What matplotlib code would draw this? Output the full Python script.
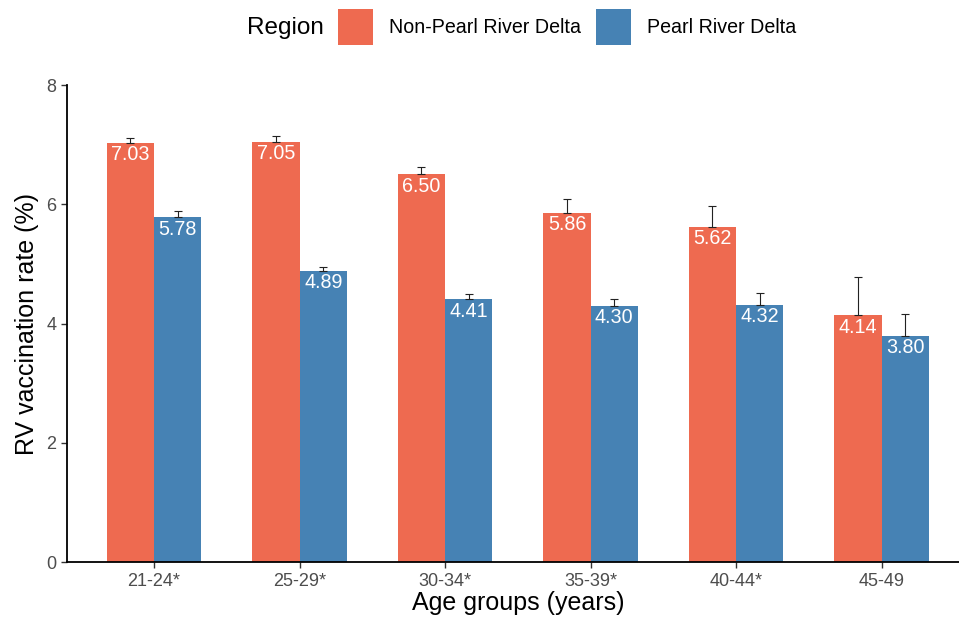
import numpy as np
import matplotlib
matplotlib.use("Agg")
import matplotlib.pyplot as plt
from matplotlib.patches import Patch

plt.rcParams["font.family"] = ["Liberation Sans", "DejaVu Sans"]

# ── data ─────────────────────────────────────────────────────────────────
AGE_GROUPS = ["21-24*", "25-29*", "30-34*", "35-39*", "40-44*", "45-49"]
NON_PRD = [7.03, 7.05, 6.50, 5.86, 5.62, 4.14]
PRD = [5.78, 4.89, 4.41, 4.30, 4.32, 3.80]
NON_PRD_UPPER = [7.12, 7.14, 6.63, 6.09, 5.98, 4.79]
PRD_UPPER = [5.89, 4.95, 4.50, 4.42, 4.52, 4.17]
REGIONS = ["Non-Pearl River Delta", "Pearl River Delta"]

COL = {"Non-Pearl River Delta": "#EE6A50", "Pearl River Delta": "#4682B4"}
W = 0.325

fig = plt.figure(figsize=(9.59, 6.23), dpi=100)
# the original panel runs slightly past the right edge of the image
ax = fig.add_axes([66.7 / 959, (623 - 562.3) / 623, (969 - 66.7) / 959, (562.3 - 85) / 623])

x = np.arange(len(AGE_GROUPS))
for off, vals, up, reg in [(-W / 2, NON_PRD, NON_PRD_UPPER, REGIONS[0]),
                           (W / 2, PRD, PRD_UPPER, REGIONS[1])]:
    ax.bar(x + off, vals, width=W, color=COL[reg], edgecolor="none")
    # upper-only error bars
    err = [np.zeros(len(vals)), np.array(up) - np.array(vals)]
    ax.errorbar(x + off, vals, yerr=err, fmt="none", ecolor="#222222",
                elinewidth=0.8, capsize=3, capthick=0.8)
    for xi, v in zip(x + off, vals):
        ax.text(xi, v - 0.04, f"{v:.2f}", ha="center", va="top",
                color="white", fontsize=14.2)

ax.set_xlim(-0.6, 5.6)
ax.set_ylim(0, 8)
ax.set_yticks([0, 2, 4, 6, 8])
ax.set_xticks(x)
ax.set_xticklabels(AGE_GROUPS)
ax.tick_params(labelsize=13, labelcolor="#4D4D4D", length=4, width=1, color="#333333")
for s in ["top", "right"]:
    ax.spines[s].set_visible(False)
for s in ["left", "bottom"]:
    ax.spines[s].set_linewidth(1.3)
ax.set_xlabel("Age groups (years)", fontsize=18, labelpad=1)
ax.set_ylabel("RV vaccination rate (%)", fontsize=18, labelpad=5)

# legend at top, title placed to the left
fig.text(285 / 959, 1 - 28 / 623, "Region", fontsize=17.5, ha="center", va="center")
handles = [Patch(facecolor=COL[r], edgecolor="none") for r in REGIONS]
fig.legend(handles, REGIONS, loc="center left", bbox_to_anchor=(338 / 959, 1 - 27 / 623),
           ncols=2, frameon=False, fontsize=14.1, handlelength=1.8, handleheight=2.4,
           handletextpad=0.8, columnspacing=0.75, borderpad=0, borderaxespad=0)

fig.savefig("out.png", dpi=100)
